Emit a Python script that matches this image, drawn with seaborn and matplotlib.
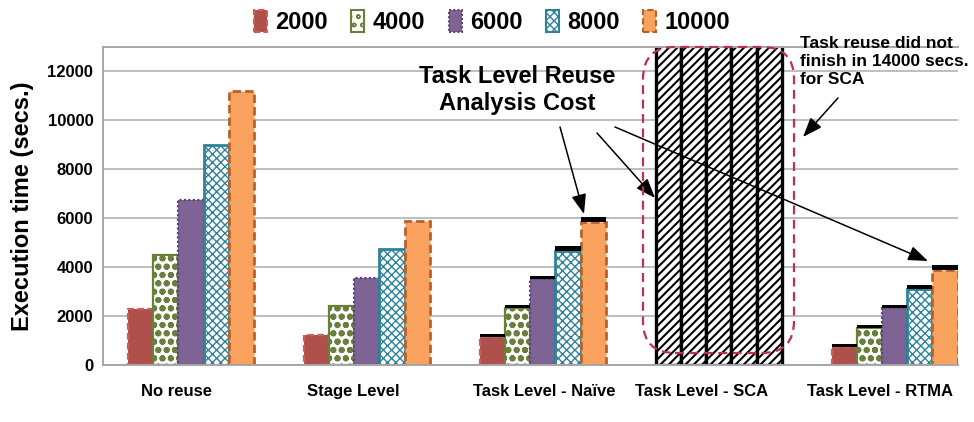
import matplotlib
matplotlib.use("Agg")
import matplotlib.pyplot as plt
import matplotlib.patches as mpatches
from matplotlib.transforms import IdentityTransform
import seaborn as sns
import pandas as pd

# ---------------- data ----------------
categories = ["No reuse", "Stage Level", "Task Level - Naïve", "Task Level - SCA", "Task Level - RTMA"]
sizes = ["2000", "4000", "6000", "8000", "10000"]
no_reuse = [2280, 4480, 6730, 8980, 11220]
stage_level = [1220, 2400, 3550, 4730, 5900]
naive = [1150, 2330, 3500, 4680, 5850]
naive_cost = [120, 120, 130, 170, 190]
sca = [14000, 14000, 14000, 14000, 14000]   # did not finish in 14000 secs
rtma = [740, 1510, 2330, 3110, 3880]
rtma_cost = [110, 120, 120, 160, 200]
yticks = [0, 2000, 4000, 6000, 8000, 10000, 12000]

series = [no_reuse, stage_level, naive, sca, rtma]
rows = []
for c, vals in zip(categories, series):
    for s, v in zip(sizes, vals):
        rows.append({"category": c, "size": s, "time": v})
df = pd.DataFrame(rows)

# ---------------- style ----------------
sns.set_style("white")
lfont = ["Liberation Sans", "DejaVu Sans"]
plt.rcParams["font.family"] = lfont
plt.rcParams["hatch.linewidth"] = 1.0
for k in ["text.color", "axes.labelcolor", "xtick.color", "ytick.color"]:
    plt.rcParams[k] = "black"

styles = {
    "2000": dict(facecolor="#B0504D", edgecolor="#C8605C", linestyle=(0, (3, 1.5)), linewidth=1.6, hatch=None),
    "4000": dict(facecolor="white", edgecolor="#68803C", linestyle="-", linewidth=1.6, hatch="oo"),
    "6000": dict(facecolor="#7E6495", edgecolor="#5A4476", linestyle=(0, (1, 1)), linewidth=1.6, hatch=None),
    "8000": dict(facecolor="white", edgecolor="#2E8299", linestyle="-", linewidth=2.0, hatch="xxxx"),
    "10000": dict(facecolor="#F9A25E", edgecolor="#B8622A", linestyle=(0, (3, 1.5)), linewidth=2.0, hatch=None),
}
palette = {s: styles[s]["facecolor"] for s in sizes}

fig = plt.figure(figsize=(9.74, 4.22), dpi=100)
ax = fig.add_axes([103 / 974, 57 / 422, 855 / 974, 318 / 422])

sns.barplot(data=df, x="category", y="time", hue="size", order=categories,
            hue_order=sizes, palette=palette, saturation=1, width=0.716,
            ax=ax, legend=False, errorbar=None)

for si, cont in enumerate(ax.containers):
    st = styles[sizes[si]]
    for ci, bar in enumerate(cont.patches):
        if categories[ci] == "Task Level - SCA":
            bar.set_facecolor("white")
            bar.set_edgecolor("black")
            bar.set_hatch("////")
            bar.set_linewidth(2.4)
            bar.set_linestyle("-")
            if hasattr(bar, "set_hatch_linewidth"):
                bar.set_hatch_linewidth(1.5)
        else:
            bar.set_facecolor(st["facecolor"])
            bar.set_edgecolor(st["edgecolor"])
            bar.set_linestyle(st["linestyle"])
            bar.set_linewidth(st["linewidth"])
            if st["hatch"]:
                bar.set_hatch(st["hatch"])
                if sizes[si] == "4000" and hasattr(bar, "set_hatch_linewidth"):
                    bar.set_hatch_linewidth(2.0)

# analysis-cost caps on Naive and RTMA
cost_map = {"Task Level - Naïve": (naive, naive_cost), "Task Level - RTMA": (rtma, rtma_cost)}
for si, cont in enumerate(ax.containers):
    for ci, bar in enumerate(cont.patches):
        cat = categories[ci]
        if cat in cost_map:
            base, cost = cost_map[cat]
            ax.bar(bar.get_x() + bar.get_width() / 2, cost[si], width=bar.get_width(),
                   bottom=base[si], color="black", linewidth=0, zorder=3)
            if si >= 3:
                ax.bar(bar.get_x() + bar.get_width() / 2, cost[si] * 0.4, width=bar.get_width() * 0.8,
                       bottom=base[si] + cost[si] * 0.3, facecolor="none", edgecolor="white",
                       hatch="-", linewidth=0, zorder=4)

ax.set_ylim(0, 13000)
ax.set_xlim(-0.5, 4.36)
ax.set_yticks(yticks)
ax.set_yticklabels([str(v) for v in yticks], fontsize=12, fontweight="bold")
# category labels sit slightly off the group centres in the reference
label_dx = [-0.085, -0.075, 0.01, -0.1, -0.085]
ax.set_xticks([i + d for i, d in enumerate(label_dx)])
ax.set_xticklabels(categories, fontsize=12, fontweight="bold")
ax.tick_params(axis="x", length=0, pad=14)
ax.tick_params(axis="y", length=0, pad=7)
ax.set_xlabel("")
ax.set_ylabel("Execution time (secs.)", fontsize=17, fontweight="bold", labelpad=10)
ax.yaxis.grid(True, color="#BEBEBE", linewidth=1.4)
ax.set_axisbelow(True)
for side in ["left", "bottom", "top"]:
    ax.spines[side].set_color("#A6A6A6")
    ax.spines[side].set_linewidth(1.4)
ax.spines["right"].set_visible(False)

# legend
handles = [mpatches.Patch(facecolor=styles[s]["facecolor"], edgecolor=styles[s]["edgecolor"],
                          linestyle=styles[s]["linestyle"], linewidth=1.5,
                          hatch=styles[s]["hatch"], label=s) for s in sizes]
leg = fig.legend(handles=handles, loc="center", bbox_to_anchor=(492 / 974, 1 - 22 / 422),
                 ncol=5, frameon=False, handlelength=0.55, handleheight=1.1,
                 handletextpad=0.35, columnspacing=1.0,
                 prop={"family": lfont, "weight": "bold", "size": 17})

# red dashed rounded box around SCA
box = mpatches.FancyBboxPatch((643, 422 - 353), 151, 306,
                              boxstyle="round,pad=0,rounding_size=32",
                              transform=IdentityTransform(), fill=False,
                              edgecolor="#C0304A", linestyle=(0, (4, 2.5)),
                              linewidth=1.6, clip_on=False, zorder=5)
fig.patches.append(box)

# annotations
fig.text(517 / 974, 1 - 90 / 422, "Task Level Reuse\nAnalysis Cost", ha="center", va="center",
         fontsize=17, fontweight="bold", family=lfont, linespacing=1.25)
arrowprops = dict(arrowstyle="-|>,head_length=1.2,head_width=0.45", color="black",
                  linewidth=1.1, shrinkA=0, shrinkB=0)
ax.annotate("", xy=(584, 422 - 214), xytext=(560, 422 - 127), xycoords="figure pixels",
            textcoords="figure pixels", arrowprops=arrowprops)
ax.annotate("", xy=(655, 422 - 198), xytext=(597, 422 - 133), xycoords="figure pixels",
            textcoords="figure pixels", arrowprops=arrowprops)
ax.annotate("", xy=(928, 422 - 261), xytext=(615, 422 - 127), xycoords="figure pixels",
            textcoords="figure pixels", arrowprops=arrowprops)

fig.text(800 / 974, 1 - 36 / 422, "Task reuse did not\nfinish in 14000 secs.\nfor SCA",
         ha="left", va="top", fontsize=12.5, fontweight="bold", family=lfont, linespacing=1.25)
ax.annotate("", xy=(803, 422 - 137), xytext=(838, 422 - 98), xycoords="figure pixels",
            textcoords="figure pixels", arrowprops=arrowprops)

fig.savefig("out.png", dpi=100)
